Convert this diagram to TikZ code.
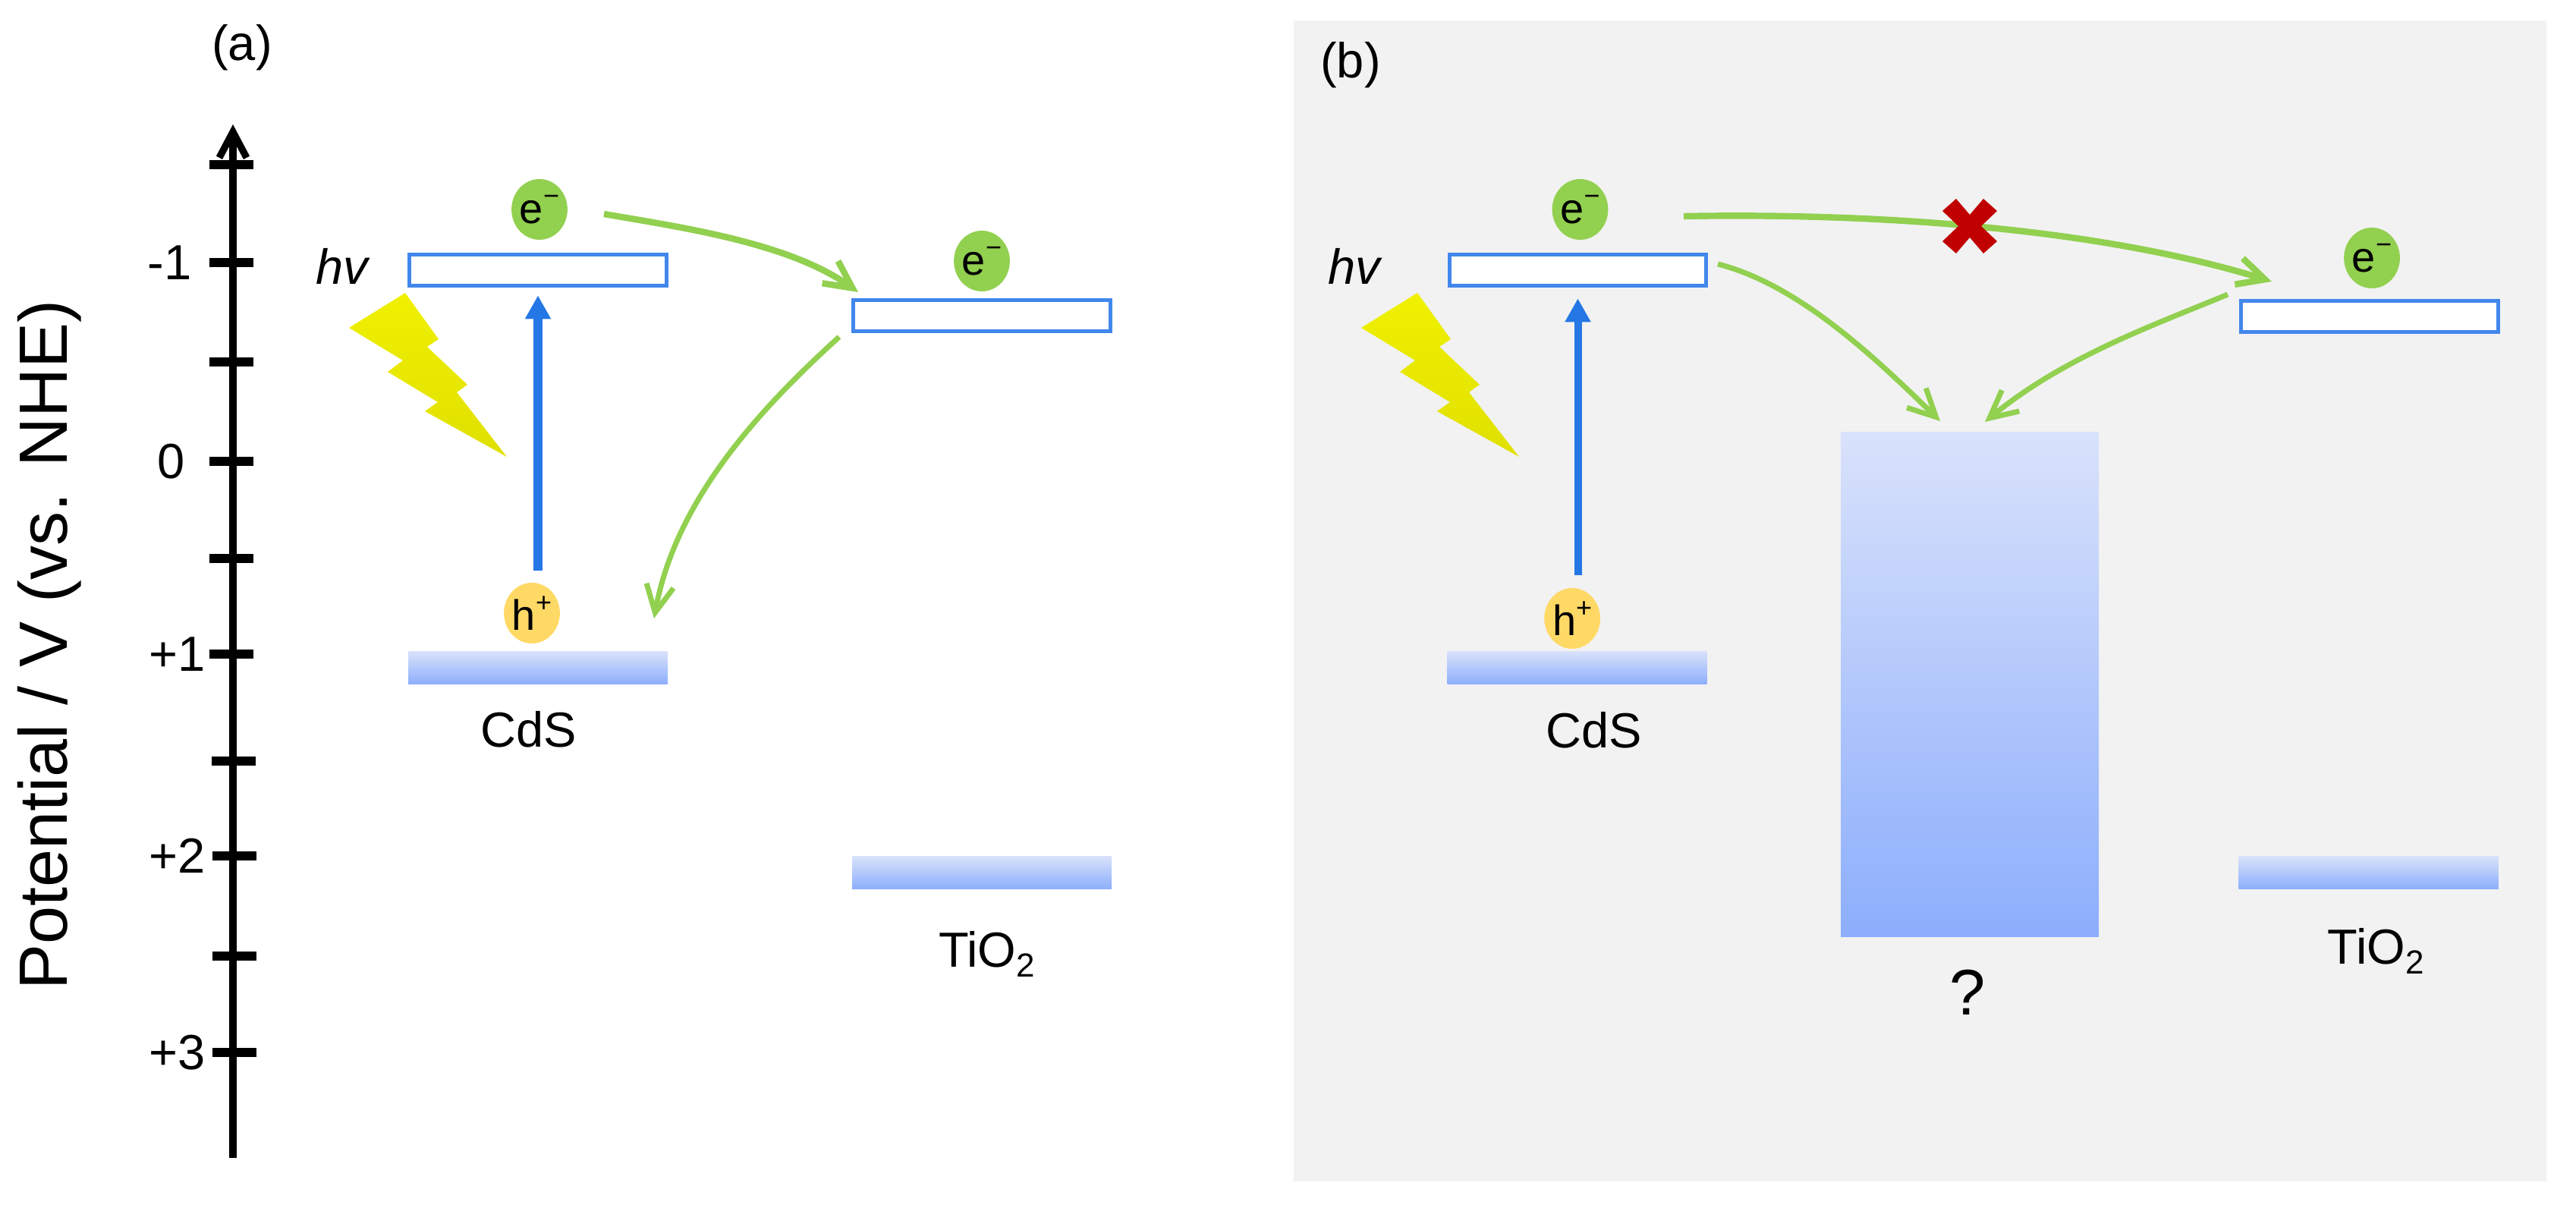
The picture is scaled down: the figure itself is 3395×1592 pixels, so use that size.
\documentclass[tikz,border=0pt]{standalone}
\usepackage{fontspec}
\setmainfont{Liberation Sans}
\usetikzlibrary{arrows.meta, shapes.geometric}
\definecolor{arrowGreen}{HTML}{92D050}
\definecolor{levelBlue}{HTML}{4287EB}
\definecolor{pumpBlue}{HTML}{2477E5}
\definecolor{holeYellow}{HTML}{FFD966}
\definecolor{bandTop}{HTML}{D9E2FB}
\definecolor{bandBottom}{HTML}{8CAEFC}
\definecolor{panelGrey}{HTML}{F2F2F2}
\definecolor{crossRed}{HTML}{C00000}
\definecolor{boltTop}{HTML}{F0F000}
\definecolor{boltBottom}{HTML}{E0E000}
\newcommand{\bodyFont}{\fontsize{16.25}{18}\selectfont}
\newcommand{\dotSup}[1]{\raisebox{.42em}{\fontsize{9}{10}\selectfont #1}}
\tikzstyle{levelBox} = [draw=levelBlue, line width=1.25pt, fill=white, rectangle,
   minimum width=84.6pt, minimum height=10.4pt, inner sep=0]
\tikzstyle{bandBox} = [rectangle, top color=bandTop, bottom color=bandBottom,
   minimum width=85.5pt, minimum height=10.9pt, inner sep=0]
\tikzstyle{barBox} = [rectangle, top color=bandTop, bottom color=bandBottom,
   minimum width=85pt, minimum height=166pt, inner sep=0]
\tikzstyle{elecDot} = [ellipse, fill=arrowGreen, minimum width=17.75pt,
   minimum height=20pt, inner sep=0, font=\fontsize{14}{16}\selectfont]
\tikzstyle{holeDot} = [elecDot, fill=holeYellow]
\tikzstyle{plainText} = [inner sep=0, text depth=0pt, font=\bodyFont]
\tikzstyle{tickMark} = [line width=3pt]
\tikzstyle{axisLine} = [line width=2.3pt, -{Straight Barb[length=8.5pt,width=9pt]}]
\tikzstyle{greenArrow} = [arrowGreen, line width=2.1pt,
   -{Straight Barb[length=9pt,width=9pt]}]
\tikzstyle{greenThin} = [greenArrow, line width=1.75pt]
\tikzstyle{blueArrow} = [pumpBlue, line width=2.9pt,
   -{Triangle[length=7.75pt,width=8pt]}]
\tikzstyle{blueThin} = [blueArrow, line width=2.5pt]
\begin{document}
\begin{tikzpicture}[x=0.25pt,y=-0.25pt]
  \useasboundingbox (0,0) rectangle (3395,1592);
  \fill[panelGrey] (1705,27) rectangle (3356,1557);

  % axis
  \coordinate (axisEnd) at (307,1526);
  \coordinate (axisTip) at (307,164);
  \draw[axisLine] (axisEnd) -- (axisTip);
  \foreach \xt/\yt in {305/217,305/346,305/477,305/608,305/736,305/862,308/1003,309/1128,309/1260,309/1387}
    \draw[tickMark] (\xt-29,\yt) -- (\xt+29,\yt);
  \node[plainText,anchor=east] (t1) at (253,346) {-1};
  \node[plainText,anchor=east] (t2) at (244,608) {0};
  \node[plainText,anchor=east] (t3) at (271,862) {+1};
  \node[plainText,anchor=east] (t4) at (271,1128) {+2};
  \node[plainText,anchor=east] (t5) at (271,1387) {+3};
  \node[inner sep=0,rotate=90,anchor=base,font=\fontsize{22.5}{24}\selectfont] (pot) at (88,850) {Potential / V (vs. NHE)};

  % panel (a)
  \node[inner sep=0,anchor=base,font=\bodyFont] (la) at (319,80) {(a)};
  \node[inner sep=0,anchor=base,font=\bodyFont] (hva) at (452,375) {\textit{hv}};
  \node[levelBox] (ca) at (709,356) {};
  \node[levelBox] (ct) at (1294,416) {};
  \node[bandBox] (va) at (709,880) {};
  \node[bandBox] (vt) at (1294,1150) {};
  \node[elecDot,above of=ca,node distance=20pt,xshift=.5pt] (ea) {e\dotSup{−}};
  \node[elecDot,above of=ct,node distance=18pt] (et) {e\dotSup{−}};
  \node[holeDot,above of=va,node distance=18pt,xshift=-2pt] (ha) {h\dotSup{+}};
  \node[plainText,below of=va,node distance=20.25pt,xshift=-3pt] (cds) {CdS};
  \node[plainText,below of=vt,node distance=25.25pt,xshift=1.6pt] (tio) {TiO\raisebox{-.2em}{\fontsize{11}{12}\selectfont 2}};

  \coordinate (s1) at (796,282);
  \coordinate (e1) at (1131,385);
  \coordinate (s2) at (1106,444);
  \coordinate (e2) at (862,815);
  \draw[greenArrow] (s1) .. controls (900,300) and (1040,320) .. (e1);
  \draw[greenThin] (s2) .. controls (1000,540) and (890,660) .. (e2);
  \draw[blueArrow,shorten <=15pt/4,shorten >=2.5pt] (ha.north -| ca.south) -- (ca.south);

  % panel (b)
  \node[inner sep=0,anchor=base,font=\bodyFont] (lb) at (1780,103) {(b)};
  \node[inner sep=0,anchor=base,font=\bodyFont] (hvb) at (1786,375) {\textit{hv}};
  \node[levelBox] (cb) at (2079.5,356) {};
  \node[levelBox] (cu) at (3123,417) {};
  \node[bandBox] (vb) at (2078.5,880) {};
  \node[bandBox] (vu) at (3121.5,1150) {};
  \node[barBox] (bar) at (2596,902) {};
  \node[elecDot,above of=cb,node distance=20pt,xshift=.75pt] (eb) {e\dotSup{−}};
  \node[elecDot,above of=cu,node distance=19.25pt,xshift=.75pt] (eu) {e\dotSup{−}};
  \node[holeDot,above of=vb,node distance=16.25pt,xshift=-1.6pt] (hb) {h\dotSup{+}};
  \node[plainText,below of=vb,node distance=20.5pt,xshift=5.6pt] (cdsb) {CdS};
  \node[plainText,below of=vu,node distance=24.25pt,xshift=2.4pt] (tiob) {TiO\raisebox{-.2em}{\fontsize{11}{12}\selectfont 2}};
  \node[inner sep=0,text depth=0pt,font=\fontsize{21.25}{24}\selectfont,below of=bar,node distance=101.5pt,xshift=-.75pt] (qm) {?};

  \coordinate (s3) at (2219,285);
  \coordinate (e3) at (2994,371);
  \coordinate (s4) at (2264,348);
  \coordinate (e4) at (2557,555);
  \coordinate (s5) at (2936,388);
  \coordinate (e5) at (2616,556);
  \draw[greenArrow] (s3) .. controls (2500,280) and (2780,305) .. (e3);
  \draw[greenThin] (s4) .. controls (2370,375) and (2470,470) .. (e4);
  \draw[greenThin] (s5) .. controls (2840,428) and (2720,470) .. (e5);
  \draw[blueThin,shorten <=4pt,shorten >=3.5pt] (hb.north -| cb.south) -- (cb.south);

  % blocked path
  \fill[crossRed,shift={(2596,298)}] (-36,-20) -- (-18,-36) -- (0,-15) -- (18,-36) -- (36,-20) -- (15,0)
    -- (36,20) -- (18,36) -- (0,15) -- (-18,36) -- (-36,20) -- (-15,0) -- cycle;

  % light bolts
  \foreach \dx in {0,1334}
    \shade[top color=boltTop,bottom color=boltBottom,shift={(\dx,0)}]
      (534,386) -- (578,447) -- (563,457) -- (616,507) -- (602,517) -- (668,602) -- (560,542)
      -- (577,530) -- (511,490) -- (531,475) -- (460,432) -- cycle;
\end{tikzpicture}
\end{document}
